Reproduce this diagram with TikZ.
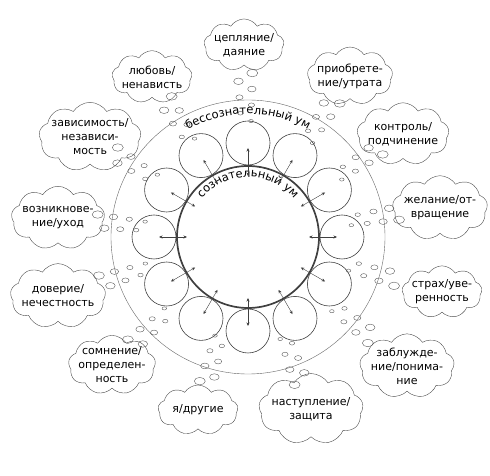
\documentclass[tikz,border=0pt]{standalone}
\usepackage{fontspec}
\setmainfont{DejaVu Sans}
\usetikzlibrary{shapes.symbols,decorations.text,calc,arrows.meta}
\tikzset{font=\fontsize{11}{14}\selectfont}
\tikzset{thought/.style={cloud, cloud puffs=9, cloud puff arc=115, aspect=1.8,
  draw=black!70, thin, align=center, inner sep=-4pt, minimum width=80pt, minimum height=50pt}}
\tikzset{bubble/.style={draw=black!65, thin}}
\tikzset{ball/.style={circle, draw=black!75, semithick, minimum size=44pt, inner sep=0pt}}
\tikzset{link/.style={{Stealth[length=3.5pt,width=3pt]}-{Stealth[length=3.5pt,width=3pt]}, black!75, thin}}

\begin{document}
\begin{tikzpicture}[x=1pt,y=1pt]
\useasboundingbox (0,0) rectangle (490,476);
\coordinate (c) at (248,239);
% unconscious and conscious mind
\draw[black!60, thin] (c) circle (137);
\draw[black!75, line width=1.7pt] (c) circle (71);
\path[decorate, decoration={text along path, text align=center,
  text={|\fontsize{11.5}{14}\selectfont|бессознательный ум}}]
  ($(c)+(150:123)$) arc[start angle=150, end angle=30, radius=123];
\path[decorate, decoration={text along path, text align=center,
  text={|\fontsize{11.5}{14}\selectfont|сознательный ум}}]
  ($(c)+(160:60)$) arc[start angle=160, end angle=20, radius=60];
\foreach \a in {0,30,...,330}{
  \node[ball] (b\a) at ($(c)+(\a:94)$) {};
  \coordinate (i\a) at ($(c)+(\a:61)$);
  \coordinate (o\a) at ($(c)+(\a:89)$);
  \draw[link] (i\a) -- (o\a);
};
% thought clouds
\node[thought] (cling)   at (244,431) {цепляние/\\даяние};
\node[thought] (gain)    at (350,400) {приобрете-\\ние/утрата};
\node[thought] (love)    at (152,399) {любовь/\\ненависть};
\node[thought] (depend)  at (90,339)  {зависимость/\\независи-\\мость};
\node[thought] (control) at (403,342) {контроль/\\подчинение};
\node[thought] (arise)   at (58,258)  {возникнове-\\ние/уход};
\node[thought] (desire)  at (440,268) {желание/от-\\вращение};
\node[thought] (trust)   at (58,180)  {доверие/\\нечестность};
\node[thought] (fear)    at (442,184) {страх/уве-\\ренность};
\node[thought] (doubt)   at (112,111) {сомнение/\\определен-\\ность};
\node[thought] (error)   at (407,110) {заблужде-\\ние/понима-\\ние};
\node[thought] (self)    at (198,66)  {я/другие};
\node[thought] (attack)  at (311,67)  {наступление/\\защита};
% bubble trails
\foreach \a/\r in {91/164, 58/162, 121/160, 148/158, 34/158, 174/152, 9/152,
                   197/154, 344/154, 223/158, 321/160, 254/152, 290/155}{
  \foreach \k/\s in {0/5.5, 1/4.8, 2/4.2, 3/3.6, 4/3.1, 5/2.7, 6/2.3}{
    \draw[bubble] ($(c)+({\a+mod(\k,2)*5-2.5}:{\r-\k*8})$) ellipse ({\s} and {0.68*\s});
  };
};
\end{tikzpicture}
\end{document}
